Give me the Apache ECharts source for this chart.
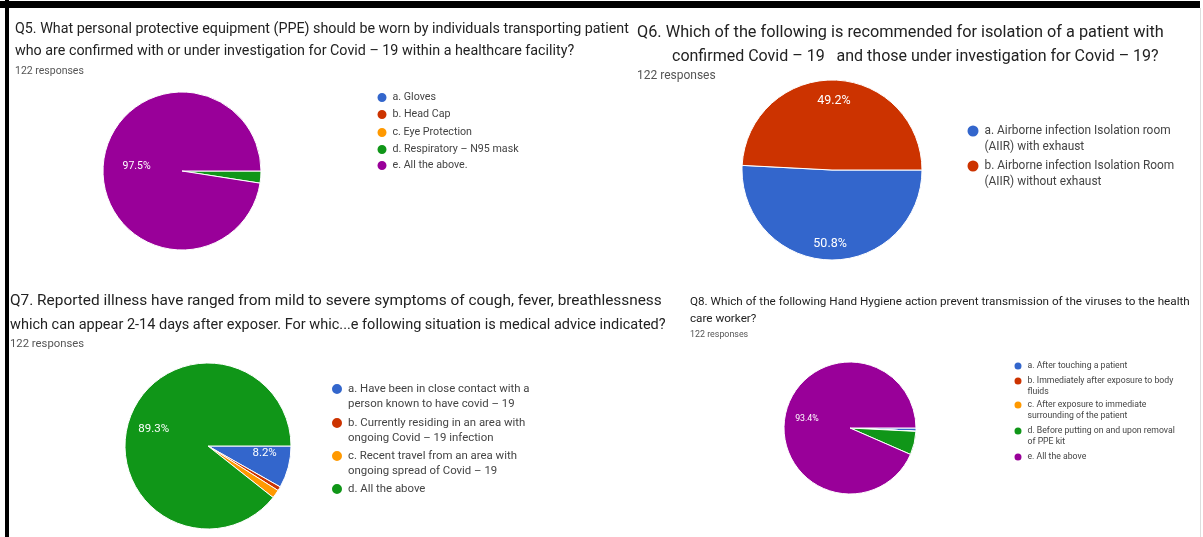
<!DOCTYPE html>
<html>
<head>
<meta charset="utf-8">
<script src="https://cdn.jsdelivr.net/npm/echarts@6/dist/echarts.min.js"></script>
<style>
html,body{margin:0;padding:0;background:#fff;}
#chart{width:1203px;height:537px;}
</style>
</head>
<body>
<div id="chart"></div>
<script>
// ---- Data ----
const palette = ['#3366cc', '#cc3300', '#ff9900', '#109618', '#990099'];

const q5Title = ['Q5. What personal protective equipment (PPE) should be worn by individuals transporting patient',
                 'who are confirmed with or under investigation for Covid – 19 within a healthcare facility?'];
const q5Names = ['a. Gloves', 'b. Head Cap', 'c. Eye Protection', 'd. Respiratory – N95 mask', 'e. All the above.'];
const q5Values = [0, 0, 0, 3, 119];

const q6Title = ['Q6. Which of the following is recommended for isolation of a patient with',
                 'confirmed Covid – 19   and those under investigation for Covid – 19?'];
const q6Names = ['a. Airborne infection Isolation room\n(AIIR) with exhaust',
                 'b. Airborne infection Isolation Room\n(AIIR) without exhaust'];
const q6Values = [62, 60];

const q7Title = ['Q7. Reported illness have ranged from mild to severe symptoms of cough, fever, breathlessness',
                 'which can appear 2-14 days after exposer. For whic...e following situation is medical advice indicated?'];
const q7Names = ['a. Have been in close contact with a\nperson known to have covid – 19',
                 'b. Currently residing in an area with\nongoing Covid – 19 infection',
                 'c. Recent travel from an area with\nongoing spread of Covid – 19',
                 'd. All the above'];
const q7Values = [10, 1, 2, 109];

const q8Title = ['Q8. Which of the following Hand Hygiene action prevent transmission of the viruses to the health',
                 'care worker?'];
const q8Names = ['a. After touching a patient',
                 'b. Immediately after exposure to body\nfluids',
                 'c. After exposure to immediate\nsurrounding of the patient',
                 'd. Before putting on and upon removal\nof PPE kit',
                 'e. All the above'];
const q8Values = [1, 0, 0, 7, 114];

const q5Colors = palette;
const q6Colors = ['#3366cc', '#cc3300'];
const q7Colors = ['#3366cc', '#cc3300', '#ff9900', '#109618'];
const q8Colors = palette;

const responses = '122 responses';

// ---- Layout (not data) ----
const FONT = 'Roboto, "Noto Sans", sans-serif';
const questions = [
  { title: q5Title, names: q5Names, values: q5Values, colors: q5Colors,
    titleX: [15, 15], titleY: [29, 51], titleSize: [14.3, 14.3], respX: 15, respY: 71, respSize: 10.5,
    center: [182, 171], r: 79, labelR0: 0, labelSize: 10.5, labelOffsets: { 4: [-3, -1] },
    legX: 381, legY: [97, 114, 132, 149, 165], dot: 11, legSize: 10.7, legL: 12 },
  { title: q6Title, names: q6Names, values: q6Values, colors: q6Colors,
    titleX: [637, 672], titleY: [33, 57], titleSize: [16.3, 16], respX: 637, respY: 76, respSize: 12,
    center: [832, 170], r: 90, labelR0: 52, labelSize: 12.5, labelOffsets: { 1: [0, 5] },
    legX: 972, legY: [131, 166], dot: 13, legSize: 11.9, legL: 16.5 },
  { title: q7Title, names: q7Names, values: q7Values, colors: q7Colors,
    titleX: [10, 10], titleY: [301, 325], titleSize: [15.4, 14.5], respX: 10, respY: 344, respSize: 11.3,
    center: [208, 446], r: 83, labelR0: 26, labelSize: 11.5, labelOffsets: { 0: [1, -8], 3: [0, 2] },
    legX: 336, legY: [389, 423, 456, 489], dot: 12, legSize: 11.4, legL: 15.5 },
  { title: q8Title, names: q8Names, values: q8Values, colors: q8Colors,
    titleX: [690, 690], titleY: [302, 319], titleSize: [11.7, 11.7], respX: 690, respY: 335, respSize: 8.9,
    center: [850, 428], r: 66, labelR0: 16, labelSize: 8.8, labelOffsets: {},
    legX: 1017, legY: [366, 381, 405, 431, 457], dot: 9, legSize: 8.7, legL: 11.3 }
];

const titles = [];
const legends = [];
const series = [];

questions.forEach(function (q) {
  q.title.forEach(function (t, i) {
    const lh = Math.round(q.titleSize[i] * 1.25);
    titles.push({
      text: t, left: q.titleX[i], top: q.titleY[i] - lh / 2, padding: 0,
      textStyle: { fontSize: q.titleSize[i], fontWeight: 'normal', color: '#222', fontFamily: FONT, lineHeight: lh }
    });
  });
  const rlh = Math.round(q.respSize * 1.25);
  titles.push({
    text: responses, left: q.respX, top: q.respY - rlh / 2, padding: 0,
    textStyle: { fontSize: q.respSize, fontWeight: 'normal', color: '#555', fontFamily: FONT, lineHeight: rlh }
  });

  const data = q.names.map(function (n, i) {
    return { name: n, value: q.values[i], itemStyle: { color: q.colors[i] } };
  });
  const total = q.values.reduce(function (a, b) { return a + b; }, 0);

  series.push({
    type: 'pie', center: q.center, radius: [0, q.r], startAngle: 0, clockwise: true,
    silent: true, animation: false, avoidLabelOverlap: false,
    label: { show: false }, labelLine: { show: false },
    itemStyle: { borderColor: '#fff', borderWidth: 1 },
    emphasis: { disabled: true },
    data: data
  });
  series.push({
    type: 'pie', center: q.center, radius: [q.labelR0, q.r], startAngle: 0, clockwise: true,
    silent: true, animation: false, avoidLabelOverlap: false,
    itemStyle: { color: 'rgba(0,0,0,0)', borderWidth: 0 },
    emphasis: { disabled: true },
    label: {
      show: true, position: 'inside', color: '#fff', fontSize: q.labelSize, fontFamily: FONT,
      align: 'center', verticalAlign: 'middle', rotate: 0,
      formatter: function (p) {
        const pct = p.value / total * 100;
        return pct >= 8 ? pct.toFixed(1) + '%' : '';
      }
    },
    labelLine: { show: false },
    data: q.names.map(function (n, i) {
      const item = { name: n, value: q.values[i], itemStyle: { color: 'rgba(0,0,0,0)' } };
      if (q.labelOffsets[i]) item.label = { offset: q.labelOffsets[i] };
      return item;
    })
  });

  q.names.forEach(function (n, i) {
    const multi = n.indexOf('\n') >= 0;
    const top = q.legY[i] - (multi ? 1.5 * q.legL : 0.5 * q.legL);
    legends.push({
      data: [n], left: q.legX - q.dot / 2, top: top, orient: 'vertical', padding: 0,
      icon: 'circle', itemWidth: q.dot, itemHeight: q.dot, itemGap: 0,
      selectedMode: false,
      textStyle: { fontSize: q.legSize, color: '#444', fontFamily: FONT, lineHeight: q.legL },
      formatter: function (name) { return name.indexOf('\n') >= 0 ? '\n' + name : name; }
    });
  });
});

const chart = echarts.init(document.getElementById('chart'), null, { renderer: 'canvas' });
chart.setOption({
  backgroundColor: '#fff',
  animation: false,
  title: titles,
  legend: legends,
  series: series,
  graphic: [
    { type: 'rect', shape: { x: 0, y: 1, width: 1200, height: 7 }, style: { fill: '#000' }, silent: true },
    { type: 'rect', shape: { x: 5, y: 0, width: 4, height: 537 }, style: { fill: '#000' }, silent: true },
    { type: 'rect', shape: { x: 1200, y: 8, width: 1, height: 529 }, style: { fill: '#ddd' }, silent: true }
  ]
});
</script>
</body>
</html>
